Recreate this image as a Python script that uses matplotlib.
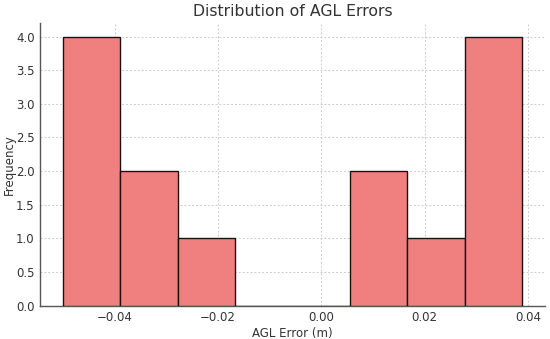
# Histograma de errores AGL: recreacion de la grafica de distribucion.
import numpy as np
import matplotlib.pyplot as plt

# Bordes de los bins (m) y conteos
bordes = [-0.0500, -0.0389, -0.0278, -0.0167, -0.0056, 0.0056, 0.0167, 0.0278, 0.0389]
conteos = [4, 2, 1, 0, 0, 2, 1, 4]
ticks_x = [-0.04, -0.02, 0.00, 0.02, 0.04]
ticks_y = [0.0, 0.5, 1.0, 1.5, 2.0, 2.5, 3.0, 3.5, 4.0]

fig = plt.figure(figsize=(5.5, 3.39), dpi=100)
ax = fig.add_axes([0.073, 0.098, 0.918, 0.834])

# Cada bin se dibuja como un histograma ponderado
centros = [(a + b) / 2 for a, b in zip(bordes[:-1], bordes[1:])]
ax.hist(centros, bins=bordes, weights=conteos, color='lightcoral',
        edgecolor='#1a1010', linewidth=1.0, zorder=3)

ax.set_title("Distribution of AGL Errors", fontsize=11.3, color='#333333', pad=5)
ax.set_xlabel("AGL Error (m)", fontsize=8.5, color='#333333', labelpad=2)
ax.set_ylabel("Frequency", fontsize=8.5, color='#333333')
ax.yaxis.set_label_coords(-0.048, 0.5)

ax.set_xticks(ticks_x)
ax.set_yticks(ticks_y)
ax.tick_params(axis='both', labelsize=8.5, colors='#333333', length=0, pad=4)

# Rejilla punteada clara
ax.grid(True, linestyle=(0, (2, 2)), color='#cccccc', linewidth=0.7, zorder=0)
ax.set_axisbelow(True)

for lado in ('top', 'right'):
    ax.spines[lado].set_visible(False)
for lado in ('left', 'bottom'):
    ax.spines[lado].set_color('#555555')
    ax.spines[lado].set_linewidth(1.0)

fig.savefig("out.png", dpi=100)
